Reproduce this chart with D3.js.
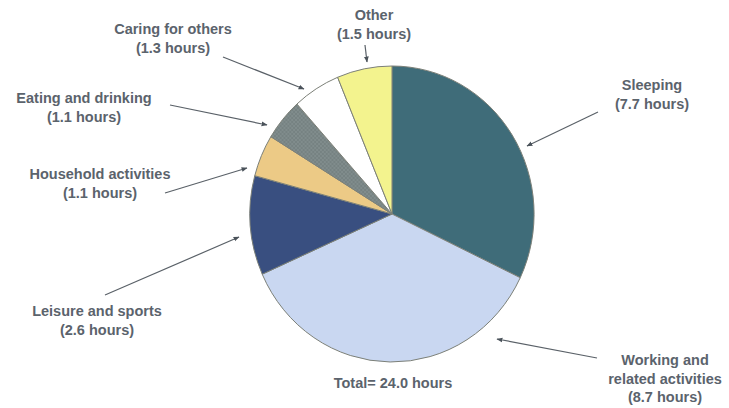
<!DOCTYPE html>
<html><head><meta charset="utf-8">
<script src="https://cdn.jsdelivr.net/npm/d3@7"></script>
<style>
html,body{margin:0;padding:0;background:#fff;}
text{font-family:"Liberation Sans",Arial,sans-serif;font-weight:bold;fill:#5b636c;}
</style></head>
<body><svg id="c" width="729" height="408"></svg>
<script>
const categories = ["Sleeping","Working and related activities","Leisure and sports","Household activities","Eating and drinking","Caring for others","Other"];
const hours = [7.7, 8.7, 2.6, 1.1, 1.1, 1.3, 1.5];
const colors = ["#3f6c79","#c9d7f1","#394f80","#ecca86","#808c8c","#ffffff","#f3f38e"];
const labelLines = [
  ["Sleeping","(7.7 hours)"],
  ["Working and","related activities","(8.7 hours)"],
  ["Leisure and sports","(2.6 hours)"],
  ["Household activities","(1.1 hours)"],
  ["Eating and drinking","(1.1 hours)"],
  ["Caring for others","(1.3 hours)"],
  ["Other","(1.5 hours)"]
];
const totalLabel = "Total= 24.0 hours";
// annotation layout: label anchor, arrow start, arrow tip
const labelPos = [[652,90],[665,365],[97,316],[100,179],[84,103],[173,34],[374,20]];
const arrowFrom = [[598,112],[597,358],[105,295],[165,193],[170,105],[223,57],[365,45]];
const arrowTo = [[527,146],[497,339],[239,237],[247,168],[267,125],[304,89],[367,62]];

const svg = d3.select("#c");
const defs = svg.append("defs");
const pat = defs.append("pattern").attr("id","hatch").attr("patternUnits","userSpaceOnUse").attr("width",4).attr("height",4);
pat.append("rect").attr("width",4).attr("height",4).attr("fill","#808c8c");
pat.append("path").attr("d","M0,4L4,0M0,0L4,4").attr("stroke","#6f7b7b").attr("stroke-width",0.6);

const cx = 392, cy = 214, R = 148, sx = 0.96;
const pie = d3.pie().sort(null).value(d=>d)(hours);
const arc = d3.arc().innerRadius(0).outerRadius(R);
const g = svg.append("g").attr("transform",`translate(${cx},${cy}) scale(${sx},1)`);
g.selectAll("path").data(pie).join("path")
  .attr("d",arc)
  .attr("fill",(d,i)=> i===4 ? "url(#hatch)" : colors[i])
  .attr("stroke","#7c8078").attr("stroke-width",1).attr("vector-effect","non-scaling-stroke");

defs.append("marker").attr("id","ah").attr("viewBox","0 0 10 10").attr("refX",9).attr("refY",5)
  .attr("markerWidth",5).attr("markerHeight",5).attr("orient","auto")
  .append("path").attr("d","M0,1L10,5L0,9Z").attr("fill","#4a525a");

svg.selectAll("line.arr").data(arrowFrom).join("line").attr("class","arr")
  .attr("x1",d=>d[0]).attr("y1",d=>d[1])
  .attr("x2",(d,i)=>arrowTo[i][0]).attr("y2",(d,i)=>arrowTo[i][1])
  .attr("stroke","#5a6168").attr("stroke-width",1.2).attr("marker-end","url(#ah)");

labelLines.forEach((lines,i)=>{
  const t = svg.append("text").attr("text-anchor","middle").attr("font-size",14.5)
    .attr("x",labelPos[i][0]).attr("y",labelPos[i][1]);
  lines.forEach((l,j)=>t.append("tspan").attr("x",labelPos[i][0]).attr("dy", j===0?0:18.5).text(l));
});
svg.append("text").attr("text-anchor","middle").attr("font-size",14.5).attr("x",393).attr("y",388).text(totalLabel);
</script></body></html>
